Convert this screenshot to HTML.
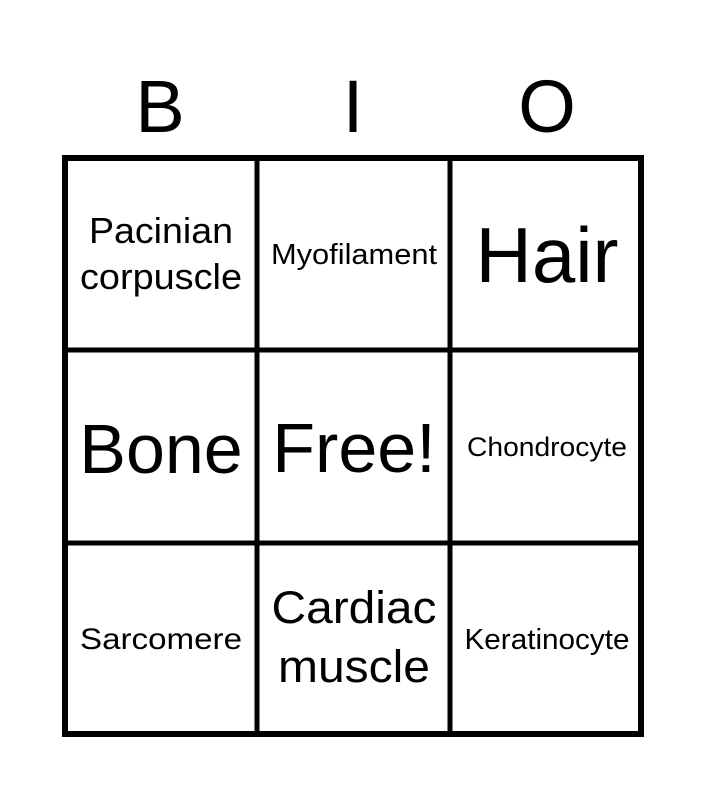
<!DOCTYPE html>
<html><head><style>html,body{margin:0;padding:0;background:#fff;}svg{display:block}text{font-family:"Liberation Sans",Arial,Helvetica,sans-serif;}</style></head>
<body>
<svg width="707" height="800" xmlns="http://www.w3.org/2000/svg" text-anchor="middle">
<rect width="707" height="800" fill="#fff"/>
<g font-size="74">
<text x="160" y="132">B</text>
<text x="353" y="132">I</text>
<text x="547" y="132">O</text>
</g>
<g stroke="#000" fill="none">
<rect x="65" y="158" width="576" height="576" stroke-width="6"/>
<line x1="257" y1="158" x2="257" y2="734" stroke-width="5"/>
<line x1="450" y1="158" x2="450" y2="734" stroke-width="5"/>
<line x1="65" y1="350" x2="641" y2="350" stroke-width="5"/>
<line x1="65" y1="543" x2="641" y2="543" stroke-width="5"/>
</g>
<g fill="#000" lengthAdjust="spacingAndGlyphs">
<text x="161" y="243" font-size="36" textLength="144" lengthAdjust="spacingAndGlyphs">Pacinian</text>
<text x="161" y="289" font-size="36" textLength="162" lengthAdjust="spacingAndGlyphs">corpuscle</text>
<text x="354" y="264" font-size="29" textLength="166" lengthAdjust="spacingAndGlyphs">Myofilament</text>
<text x="547" y="282" font-size="78">Hair</text>
<text x="161" y="473" font-size="70">Bone</text>
<text x="354" y="472" font-size="70">Free!</text>
<text x="547" y="456" font-size="27" textLength="160" lengthAdjust="spacingAndGlyphs">Chondrocyte</text>
<text x="161" y="649" font-size="30" textLength="162" lengthAdjust="spacingAndGlyphs">Sarcomere</text>
<text x="354" y="623" font-size="45" textLength="165" lengthAdjust="spacingAndGlyphs">Cardiac</text>
<text x="354" y="682" font-size="45" textLength="152" lengthAdjust="spacingAndGlyphs">muscle</text>
<text x="547" y="649" font-size="29" textLength="165" lengthAdjust="spacingAndGlyphs">Keratinocyte</text>
</g>
</svg>
</body></html>
